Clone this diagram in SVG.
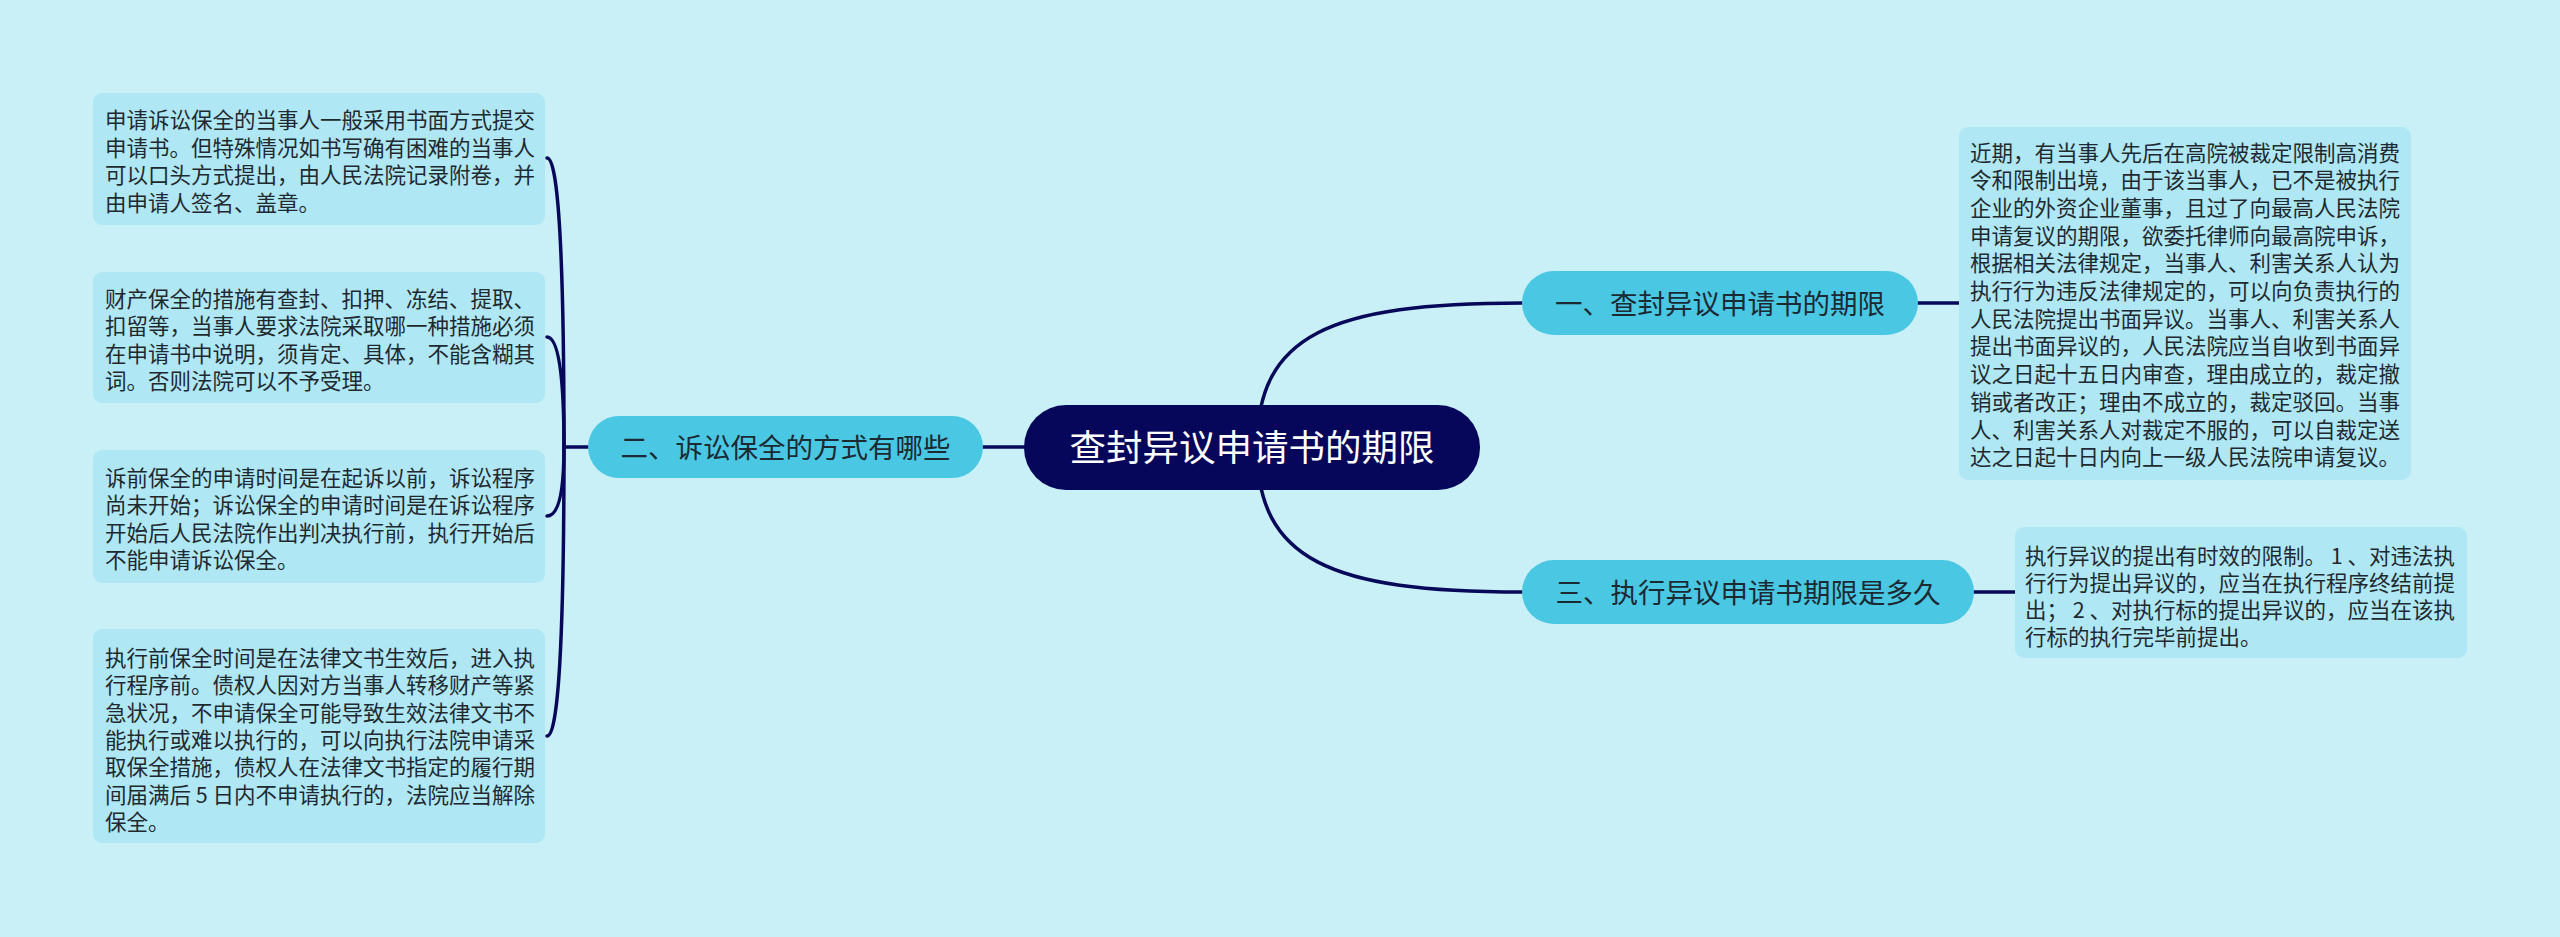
<svg xmlns="http://www.w3.org/2000/svg" width="2560" height="937" viewBox="0 0 2560 937">
<style>
.leaf{fill:#afe7f4;}
.ltxt{font-family:"Noto Sans CJK SC","Liberation Sans",sans-serif;font-size:21.5px;fill:#1f2a30;}
.sub{fill:#4ac7e2;}
.stxt{font-family:"Noto Sans CJK SC","Liberation Sans",sans-serif;font-size:27.5px;fill:#1b2a33;text-anchor:middle;}
.ctxt{font-family:"Noto Sans CJK SC","Liberation Sans",sans-serif;font-size:36.5px;fill:#ffffff;text-anchor:middle;}
.con{fill:none;stroke:#08085a;stroke-width:3.5;stroke-linecap:round;}
</style>
<rect x="0" y="0" width="2560" height="937" fill="#c9f0f7"/>
<g id="connectors">
<path class="con" d="M 1257 447 C 1257 335 1330 303 1522 303"/>
<path class="con" d="M 1257 447 C 1257 560 1330 592 1522 592"/>
<path class="con" d="M 983 447 L 1024 447"/>
<path class="con" d="M 565 447 L 588 447"/>
<path class="con" d="M 547 158 Q 564 158 564 447"/>
<path class="con" d="M 547 337 Q 564 337 564 447"/>
<path class="con" d="M 547 516 Q 564 516 564 447"/>
<path class="con" d="M 547 736 Q 564 736 564 447"/>
<path class="con" d="M 1918 303 L 1959 303"/>
<path class="con" d="M 1974 592 L 2015 592"/>
</g>
<g id="root">
<rect x="1024" y="405" width="456" height="85" rx="42" fill="#06065a"/>
<text class="ctxt" x="1252" y="461">查封异议申请书的期限</text>
</g>
<g id="branch1">
<rect class="sub" x="1522" y="271" width="396" height="64" rx="32"/>
<text class="stxt" x="1720" y="313.5">一、查封异议申请书的期限</text>
</g>
<g id="branch2">
<rect class="sub" x="588" y="416" width="395" height="62" rx="31"/>
<text class="stxt" x="785.5" y="457.5">二、诉讼保全的方式有哪些</text>
</g>
<g id="branch3">
<rect class="sub" x="1522" y="560" width="452" height="64" rx="32"/>
<text class="stxt" x="1748" y="602.5">三、执行异议申请书期限是多久</text>
</g>
<g id="leafA">
<rect class="leaf" x="93" y="93" width="452" height="132" rx="9"/>
<text class="ltxt">
<tspan x="105" y="128">申请诉讼保全的当事人一般采用书面方式提交</tspan>
<tspan x="105" y="155.5">申请书。但特殊情况如书写确有困难的当事人</tspan>
<tspan x="105" y="183">可以口头方式提出，由人民法院记录附卷，并</tspan>
<tspan x="105" y="210.5">由申请人签名、盖章。</tspan>
</text>
</g>
<g id="leafB">
<rect class="leaf" x="93" y="272" width="452" height="131" rx="9"/>
<text class="ltxt">
<tspan x="105" y="306.5">财产保全的措施有查封、扣押、冻结、提取、</tspan>
<tspan x="105" y="334">扣留等，当事人要求法院采取哪一种措施必须</tspan>
<tspan x="105" y="361.5">在申请书中说明，须肯定、具体，不能含糊其</tspan>
<tspan x="105" y="389">词。否则法院可以不予受理。</tspan>
</text>
</g>
<g id="leafC">
<rect class="leaf" x="93" y="450" width="452" height="133" rx="9"/>
<text class="ltxt">
<tspan x="105" y="485.5">诉前保全的申请时间是在起诉以前，诉讼程序</tspan>
<tspan x="105" y="513">尚未开始；诉讼保全的申请时间是在诉讼程序</tspan>
<tspan x="105" y="540.5">开始后人民法院作出判决执行前，执行开始后</tspan>
<tspan x="105" y="568">不能申请诉讼保全。</tspan>
</text>
</g>
<g id="leafD">
<rect class="leaf" x="93" y="629" width="452" height="214" rx="9"/>
<text class="ltxt">
<tspan x="105" y="666">执行前保全时间是在法律文书生效后，进入执</tspan>
<tspan x="105" y="693.3">行程序前。债权人因对方当事人转移财产等紧</tspan>
<tspan x="105" y="720.6">急状况，不申请保全可能导致生效法律文书不</tspan>
<tspan x="105" y="747.9">能执行或难以执行的，可以向执行法院申请采</tspan>
<tspan x="105" y="775.2">取保全措施，债权人在法律文书指定的履行期</tspan>
<tspan x="105" y="802.5">间届满后 5 日内不申请执行的，法院应当解除</tspan>
<tspan x="105" y="829.8">保全。</tspan>
</text>
</g>
<g id="leafR1">
<rect class="leaf" x="1959" y="127" width="452" height="353" rx="9"/>
<text class="ltxt">
<tspan x="1970" y="160.5">近期，有当事人先后在高院被裁定限制高消费</tspan>
<tspan x="1970" y="188.2">令和限制出境，由于该当事人，已不是被执行</tspan>
<tspan x="1970" y="215.9">企业的外资企业董事，且过了向最高人民法院</tspan>
<tspan x="1970" y="243.6">申请复议的期限，欲委托律师向最高院申诉，</tspan>
<tspan x="1970" y="271.3">根据相关法律规定，当事人、利害关系人认为</tspan>
<tspan x="1970" y="299">执行行为违反法律规定的，可以向负责执行的</tspan>
<tspan x="1970" y="326.7">人民法院提出书面异议。当事人、利害关系人</tspan>
<tspan x="1970" y="354.4">提出书面异议的，人民法院应当自收到书面异</tspan>
<tspan x="1970" y="382.1">议之日起十五日内审查，理由成立的，裁定撤</tspan>
<tspan x="1970" y="409.8">销或者改正；理由不成立的，裁定驳回。当事</tspan>
<tspan x="1970" y="437.5">人、利害关系人对裁定不服的，可以自裁定送</tspan>
<tspan x="1970" y="465.2">达之日起十日内向上一级人民法院申请复议。</tspan>
</text>
</g>
<g id="leafR2">
<rect class="leaf" x="2015" y="527" width="452" height="131" rx="9"/>
<text class="ltxt">
<tspan x="2025" y="563.5">执行异议的提出有时效的限制。 1 、对违法执</tspan>
<tspan x="2025" y="590.8">行行为提出异议的，应当在执行程序终结前提</tspan>
<tspan x="2025" y="618.1">出； 2 、对执行标的提出异议的，应当在该执</tspan>
<tspan x="2025" y="645.4">行标的执行完毕前提出。</tspan>
</text>
</g>
</svg>
